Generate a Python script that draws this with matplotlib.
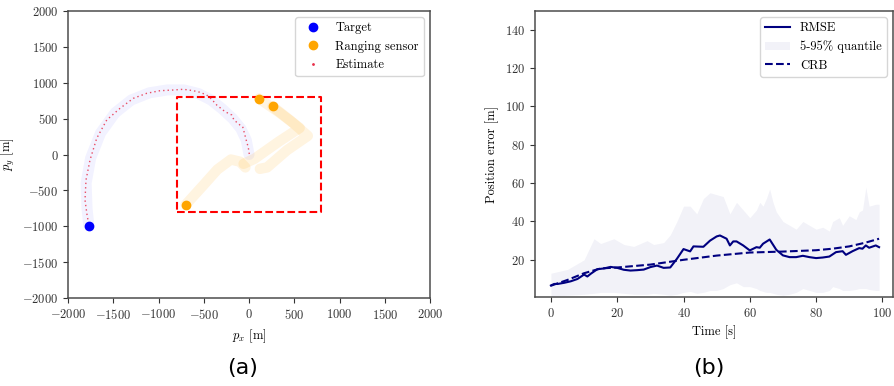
import numpy as np
import matplotlib
matplotlib.use('Agg')
import matplotlib.pyplot as plt
from matplotlib.lines import Line2D

plt.rcParams.update({'font.family': 'serif', 'font.serif': ['cmr10'],
                     'mathtext.fontset': 'cm', 'axes.formatter.use_mathtext': True,
                     'font.size': 9})

# --- (a) trajectory ---
target = (-1770, -990)
sensors_x = [110, 260, -700]
sensors_y = [780, 670, -700]
box = 800

est_x = [3, -8, -26, -55, -70, -100, -166, -191, -265, -357, -412, -468, -541, -615,
         -726, -836, -983, -1130, -1278, -1425, -1572, -1683, -1757, -1801, -1812, -1787, -1765]
est_y = [7, 100, 178, 318, 388, 411, 481, 551, 597, 690, 769, 829, 867, 889,
         909, 899, 889, 853, 783, 644, 481, 225, -77, -355, -634, -867, -983]

true_x = [0, -30, -90, -180, -300, -420, -560, -720, -900, -1100, -1300, -1480, -1640, -1750, -1800, -1790, -1770]
true_y = [0, 200, 360, 500, 640, 760, 850, 900, 900, 860, 760, 580, 300, -50, -400, -750, -990]

# sensor paths (waypoints)
s1_x = [-40, -100, -200, -350, -520, -700]
s1_y = [-180, -100, -70, -210, -450, -700]
s2_x = [-60, 60, 330, 560, 330, 110]
s2_y = [-130, -60, 180, 370, 590, 780]
s3_x = [120, 200, 420, 650, 460, 260]
s3_y = [-200, -180, 60, 260, 470, 670]

# --- (b) errors ---
t_rmse = [0, 1, 2, 4, 6, 8, 10, 11, 12, 14, 16, 18, 20, 22, 24, 26, 28, 30, 32, 34, 36, 38,
          40, 42, 43, 46, 48, 50, 51, 53, 54, 55, 56, 58, 60, 62, 63, 64, 66, 68, 70, 72,
          74, 76, 78, 80, 82, 84, 86, 88, 89, 91, 93, 94, 95, 96, 98, 99]
rmse = [6.6, 7.4, 7.4, 8.0, 8.8, 10.0, 12.3, 11.3, 12.7, 15.1, 15.5, 16.3, 15.8, 14.8, 14.4,
        14.6, 14.9, 16.2, 17.0, 15.8, 16.0, 20.5, 25.6, 24.4, 27.0, 26.8, 30.0, 32.2, 32.7,
        31.0, 27.5, 29.6, 29.6, 27.5, 24.9, 26.6, 26.3, 28.4, 30.6, 25.2, 22.3, 21.4, 21.4,
        22.1, 21.4, 20.9, 21.2, 21.7, 24.0, 24.5, 22.6, 24.5, 26.1, 25.8, 27.5, 26.3, 27.5, 26.6]

t_crb = [0, 5, 10, 15, 20, 30, 40, 50, 60, 70, 80, 85, 90, 95, 99]
crb = [6.5, 9.5, 13.0, 15.5, 16.0, 17.5, 20.0, 22.2, 23.8, 24.3, 25.0, 25.8, 27.0, 29.0, 31.0]

t_q = [0, 5, 10, 13, 15, 19, 22, 25, 29, 31, 34, 36, 38, 40, 42, 44, 46, 48, 50, 52, 54,
       56, 58, 60, 62, 63, 64, 65, 66, 67, 68, 70, 72, 74, 76, 78, 80, 82, 84, 85, 87, 88,
       90, 92, 93, 94, 95, 96, 98, 99]
q_hi = [13, 15, 20, 31, 28.5, 31, 28, 27, 30, 28, 29, 33, 40, 48, 48, 44, 52, 55, 54, 53,
        44, 50, 46, 42, 46, 50, 48, 52, 57, 50, 45, 40, 38, 36, 40, 38, 36, 37, 35, 40, 42,
        38, 43, 41, 45, 46, 58, 48, 49, 49]
q_lo = [1, 1.5, 2, 2.5, 3, 3, 2.5, 2, 2, 2.5, 2, 1.5, 2, 3, 3.5, 2.5, 3, 4, 4, 5, 7,
        8, 6, 6, 5, 4, 3.5, 3, 3, 2.5, 2, 1.5, 2, 3, 5, 4, 3, 3, 4, 6, 5, 4, 4, 4.5, 5,
        5, 5, 4.5, 4, 4]

fig = plt.figure(figsize=(8.94, 3.86), dpi=100)
ax1 = fig.add_axes([68/894, 88/386, 362/894, 287/386])
ax2 = fig.add_axes([535/894, 89/386, 358/894, 286/386])

# left
ax1.plot(true_x, true_y, color='b', alpha=0.05, lw=8, solid_capstyle='round', zorder=1)
for sx, sy in [(s1_x, s1_y), (s2_x, s2_y), (s3_x, s3_y)]:
    ax1.plot(sx, sy, color='orange', alpha=0.12, lw=7.5, solid_capstyle='round',
             solid_joinstyle='round', zorder=1)
ax1.plot([-box, box, box, -box, -box], [-box, -box, box, box, -box], '--', color='red', lw=1.5, zorder=2)
ax1.plot(est_x, est_y, color='#e8304a', lw=1.0, linestyle=(0, (1, 2.2)), alpha=0.85, zorder=3)
ax1.plot(*target, 'o', color='blue', ms=6, zorder=4)
ax1.plot(sensors_x, sensors_y, 'o', color='orange', ms=6, zorder=4)
ax1.set_xlim(-2000, 2000)
ax1.set_ylim(-2000, 2000)
ax1.set_xticks(np.arange(-2000, 2001, 500))
ax1.set_yticks(np.arange(-2000, 2001, 500))
ax1.set_xlabel(r'$p_x$ [m]')
ax1.set_ylabel(r'$p_y$ [m]')
handles = [Line2D([], [], marker='o', color='blue', ls='none', ms=6),
           Line2D([], [], marker='o', color='orange', ls='none', ms=6),
           Line2D([], [], marker='.', color='#e8304a', ls='none', ms=2)]
ax1.legend(handles, ['Target', 'Ranging sensor', 'Estimate'], loc='upper right')

# right
ax2.fill_between(t_q, q_lo, q_hi, color='navy', alpha=0.05, lw=0, label='5-95% quantile')
ax2.plot(t_rmse, rmse, color='navy', lw=1.5, label='RMSE')
ax2.plot(t_crb, crb, '--', color='navy', lw=1.5, label='CRB')
ax2.set_xlim(-4.8, 103.2)
ax2.set_ylim(0.6, 149.8)
ax2.set_xticks(np.arange(0, 101, 20))
ax2.set_yticks(np.arange(20, 141, 20))
ax2.set_xlabel('Time [s]')
ax2.set_ylabel('Position error [m]')
h, l = ax2.get_legend_handles_labels()
ax2.legend([h[1], h[0], h[2]], [l[1], l[0], l[2]], loc='upper right')

for ax in (ax1, ax2):
    for s in ax.spines.values():
        s.set_color('0.3')
        s.set_linewidth(1.1)
    ax.tick_params(colors='0.2', labelcolor='0.2')

fig.text(243/894, 1 - 368/386, '(a)', family='DejaVu Sans', fontsize=16, ha='center', va='center')
fig.text(709/894, 1 - 368/386, '(b)', family='DejaVu Sans', fontsize=16, ha='center', va='center')

fig.savefig('out.png', dpi=100)
